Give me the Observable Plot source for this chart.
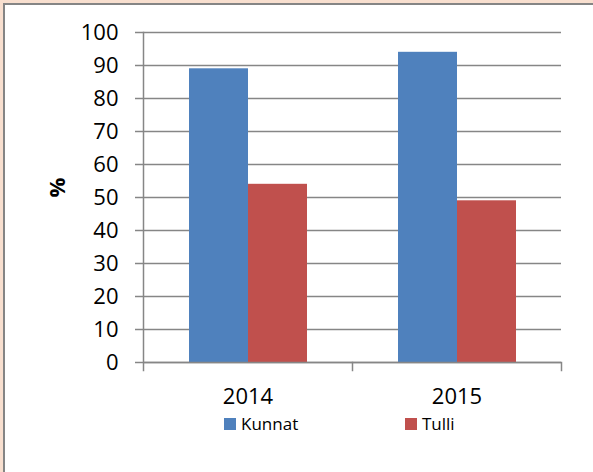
<!DOCTYPE html>
<html>
<head>
<meta charset="utf-8">
<script src="https://cdn.jsdelivr.net/npm/d3@7"></script>
<script src="https://cdn.jsdelivr.net/npm/@observablehq/plot@0.6"></script>
<style>
  body { margin: 0; background: #fff; }
  #wrap { position: relative; width: 593px; height: 472px; overflow: hidden; background: #fff; font-family: "Open Sans", sans-serif; }
  #chart { position: absolute; left: 0; top: 0; }
  .b { position: absolute; }
  #legend { position: absolute; left: 0; top: 0; width: 593px; height: 472px; pointer-events: none; }
  .sw { position: absolute; width: 12px; height: 12px; }
  .lt { position: absolute; font-size: 17px; line-height: 17px; color: #000; white-space: nowrap; }
</style>
</head>
<body>
<div id="wrap">
  <div id="chart"></div>
  <div id="legend"></div>
  <div class="b" style="left:0;top:0;width:593px;height:3px;background:#f8dfcf"></div>
  <div class="b" style="left:0;top:0;width:3px;height:472px;background:#f8dfcf"></div>
  <div class="b" style="left:3px;top:3px;width:590px;height:1.5px;background:#858585"></div>
  <div class="b" style="left:3px;top:3px;width:1.5px;height:469px;background:#858585"></div>
</div>
<script>
const years = ["2014", "2015"];
const series = ["Kunnat", "Tulli"];
const kunnat = [89, 94];
const tulli = [54, 49];
const colors = ["#4F81BD", "#C0504D"];
const yTicks = [0, 10, 20, 30, 40, 50, 60, 70, 80, 90, 100];
const yLabel = "%";

const data = years.flatMap((yr, i) => [
  {year: yr, series: series[0], value: kunnat[i]},
  {year: yr, series: series[1], value: tulli[i]}
]);

const axisColor = "#868686";

const chart = Plot.plot({
  width: 593,
  height: 400,
  marginLeft: 143,
  marginRight: 32,
  marginTop: 32,
  marginBottom: 38,
  style: {fontFamily: '"Open Sans", sans-serif', background: "transparent", overflow: "visible", color: "#000"},
  fx: {domain: years, padding: 0, label: null},
  x: {domain: series, paddingInner: 0, paddingOuter: 0.75, axis: null},
  y: {domain: [0, 100], label: null},
  color: {domain: series, range: colors},
  marks: [
    Plot.gridY(yTicks, {stroke: axisColor, strokeOpacity: 1, strokeWidth: 1.5}),
    Plot.barY(data, {fx: "year", x: "series", y: "value", fill: "series"}),
    Plot.ruleY([0], {stroke: axisColor, strokeWidth: 1.5}),
    Plot.frame({anchor: "left", facetAnchor: "left", stroke: axisColor, strokeWidth: 1.5, insetBottom: -8}),
    Plot.frame({anchor: "right", stroke: axisColor, strokeWidth: 1.5, insetTop: 330, insetBottom: -8}),
    Plot.axisY(yTicks, {tickSize: 8, tickPadding: 17, fontSize: 22, stroke: axisColor, strokeWidth: 1.5, fill: "#000", label: null}),
    Plot.axisFx({anchor: "bottom", tickSize: 0, tickPadding: 26, fontSize: 22, fill: "#000", label: null}),
    Plot.text([yLabel], {frameAnchor: "left", dx: -86, rotate: -90, fontSize: 22, fontWeight: "bold", fill: "#000", facetAnchor: "left"})
  ]
});
document.getElementById("chart").appendChild(chart);

// legend
const legend = document.getElementById("legend");
const legendX = [224, 405];
series.forEach((s, i) => {
  const sw = document.createElement("div");
  sw.className = "sw";
  sw.style.left = legendX[i] + "px";
  sw.style.top = "418px";
  sw.style.background = colors[i];
  legend.appendChild(sw);
  const t = document.createElement("div");
  t.className = "lt";
  t.style.left = (legendX[i] + 17) + "px";
  t.style.top = "415px";
  t.textContent = s;
  legend.appendChild(t);
});
</script>
</body>
</html>
